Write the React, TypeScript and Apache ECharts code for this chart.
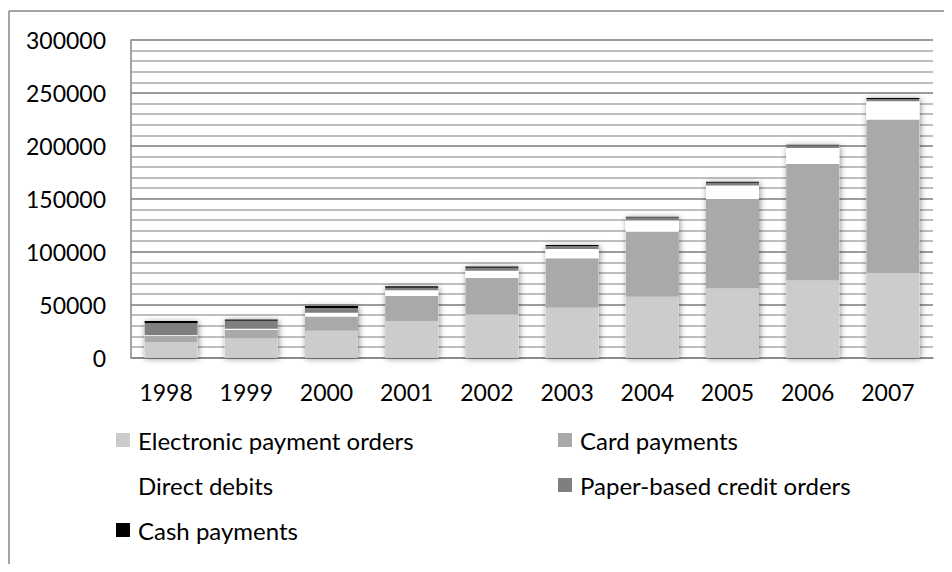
import React, { useEffect, useRef } from "react";
import * as echarts from "echarts";

const years = ["1998", "1999", "2000", "2001", "2002", "2003", "2004", "2005", "2006", "2007"];
const electronic = [14500, 18000, 25300, 34400, 40400, 47100, 57500, 65100, 72700, 79700];
const card = [6300, 8200, 13500, 23700, 34700, 46700, 61500, 84600, 110200, 145100];
const directDebits = [500, 900, 3500, 5400, 6900, 8800, 10400, 12900, 15100, 17300];
const paperCredit = [11400, 7600, 4400, 2500, 2900, 2800, 2800, 2500, 2200, 2200];
const cash = [1900, 1300, 1900, 1400, 1000, 900, 900, 900, 900, 1000];

const seriesNames = [
  "Electronic payment orders",
  "Card payments",
  "Direct debits",
  "Paper-based credit orders",
  "Cash payments",
];
const seriesData = [electronic, card, directDebits, paperCredit, cash];
const seriesColors = ["#cccccc", "#a9a9a9", "#ffffff", "#7f7f7f", "#000000"];

const FONT = "Lato, 'Open Sans', sans-serif";

export default function App() {
  const ref = useRef<HTMLDivElement>(null);
  useEffect(() => {
    if (!ref.current) return;
    const chart = echarts.init(ref.current, undefined, { renderer: "svg" });
    const totals = years.map((_, i) => seriesData.reduce((s, arr) => s + arr[i], 0));
    const legendPos = [
      { left: 111, top: 423 },
      { left: 553, top: 423 },
      { left: 111, top: 468 },
      { left: 553, top: 468 },
      { left: 111, top: 513 },
    ];
    chart.setOption({
      animation: false,
      backgroundColor: "#ffffff",
      textStyle: { fontFamily: FONT },
      grid: { left: 131, right: 19, top: 40, bottom: 214.5, containLabel: false },
      graphic: [
        { type: "line", shape: { x1: 9, y1: 11, x2: 952, y2: 11 }, style: { stroke: "#868686", lineWidth: 1.5 } },
        { type: "line", shape: { x1: 9, y1: 11, x2: 9, y2: 572 }, style: { stroke: "#868686", lineWidth: 1.5 } },
      ],
      legend: seriesNames.map((name, i) => ({
        data: [name],
        left: legendPos[i].left,
        top: legendPos[i].top,
        itemWidth: 14,
        itemHeight: 14,
        icon: "rect",
        selectedMode: false,
        textStyle: { fontFamily: FONT, fontSize: 24, color: "#000", padding: [0, 0, 0, 3] },
      })),
      xAxis: {
        type: "category",
        data: years,
        axisLine: { show: true, lineStyle: { color: "#868686", width: 1.5 } },
        axisTick: { show: false },
        axisLabel: { fontFamily: FONT, fontSize: 23, color: "#000", margin: 23, padding: [0, 10, 0, 0] },
      },
      yAxis: {
        type: "value",
        min: 0,
        max: 300000,
        interval: 50000,
        axisLine: { show: true, lineStyle: { color: "#868686", width: 1.5 } },
        axisTick: { show: false },
        axisLabel: {
          fontFamily: FONT,
          fontSize: 23,
          color: "#000",
          margin: 25,
          formatter: (v: number) => String(v),
        },
        splitLine: { show: true, lineStyle: { color: "#7a7a7a", width: 1.5 } },
        minorTick: { show: false, splitNumber: 5 },
        minorSplitLine: { show: true, lineStyle: { color: "#a8a8a8", width: 1.5 } },
      },
      series: [
        {
          name: "shadow",
          type: "bar",
          data: totals,
          barWidth: 53,
          barGap: "-100%",
          z: 1,
          silent: true,
          itemStyle: {
            color: "#ffffff",
            shadowBlur: 6,
            shadowColor: "rgba(0,0,0,0.45)",
            shadowOffsetX: 1,
            shadowOffsetY: 1,
          },
        },
        ...seriesNames.map((name, i) => ({
          name,
          type: "bar",
          stack: "total",
          data: seriesData[i],
          barWidth: 53,
          barGap: "-100%",
          z: 2,
          itemStyle: { color: seriesColors[i] },
        })),
      ],
    });
    return () => chart.dispose();
  }, []);
  return <div ref={ref} style={{ width: 952, height: 572, margin: -8 }} />;
}
